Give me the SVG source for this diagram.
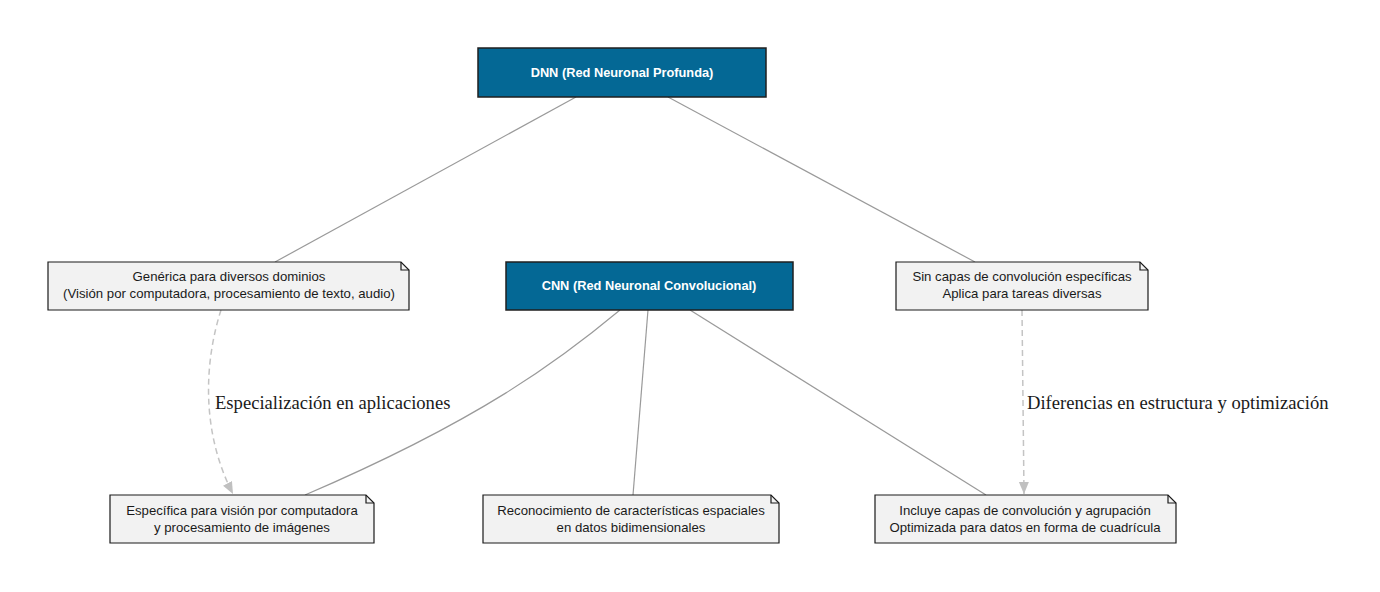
<svg xmlns="http://www.w3.org/2000/svg" width="1380" height="592" viewBox="0 0 1380 592">
<style>
.main{fill:#046895;stroke:#1f1f1f;stroke-width:1.5}
.note{fill:#f2f2f2;stroke:#1a1a1a;stroke-width:1.2}
.fold{fill:none;stroke:#1a1a1a;stroke-width:1.2}
.mt{font-family:"Liberation Sans",Arial,sans-serif;font-size:12.8px;font-weight:bold;fill:#ffffff;text-anchor:middle}
.nt{font-family:"Liberation Sans",Arial,sans-serif;font-size:13.2px;fill:#1a1a1a;text-anchor:middle}
.lbl{font-family:"Liberation Serif","Times New Roman",serif;font-size:18.6px;fill:#1a1a1a}
.edge{fill:none;stroke:#9a9a9a;stroke-width:1.2}
.dash{fill:none;stroke:#c4c4c4;stroke-width:1.5;stroke-dasharray:6,4}
</style>
<defs>
<marker id="arr" viewBox="0 0 12 12" refX="12" refY="6" markerWidth="12" markerHeight="12" markerUnits="userSpaceOnUse" orient="auto">
<path d="M0,1 L12,6 L0,11 Z" fill="#c0c0c0"/>
</marker>
</defs>
<rect width="1380" height="592" fill="#ffffff"/>
<g id="connectors">
<line class="edge" x1="576" y1="97" x2="275" y2="262"/>
<line class="edge" x1="668" y1="97" x2="975" y2="262"/>
<path class="edge" d="M620,310 C560,360 480,420 305,495"/>
<line class="edge" x1="648" y1="310" x2="633" y2="495"/>
<line class="edge" x1="690" y1="310" x2="986" y2="495"/>
<path class="dash" d="M221,310 C205,360 200,430 233,494" marker-end="url(#arr)"/>
<line class="dash" x1="1022" y1="310" x2="1024" y2="494" marker-end="url(#arr)"/>
<text class="lbl" x="215" y="409">Especialización en aplicaciones</text>
<text class="lbl" x="1027" y="409">Diferencias en estructura y optimización</text>
</g>
<g id="dnn">
<rect class="main" x="478" y="48" width="288" height="49"/>
<text class="mt" x="622" y="77">DNN (Red Neuronal Profunda)</text>
</g>
<g id="cnn">
<rect class="main" x="506" y="262" width="287" height="48"/>
<text class="mt" x="649" y="290">CNN (Red Neuronal Convolucional)</text>
</g>
<g id="note-generica">
<path class="note" d="M48,262 H401 L409,270 V310 H48 Z"/>
<path class="fold" d="M401,262 V270 H409"/>
<text class="nt" x="229" y="281">Genérica para diversos dominios</text>
<text class="nt" x="229" y="298">(Visión por computadora, procesamiento de texto, audio)</text>
</g>
<g id="note-sin">
<path class="note" d="M896,262 H1140 L1148,270 V310 H896 Z"/>
<path class="fold" d="M1140,262 V270 H1148"/>
<text class="nt" x="1022" y="281">Sin capas de convolución específicas</text>
<text class="nt" x="1022" y="298">Aplica para tareas diversas</text>
</g>
<g id="note-especifica">
<path class="note" d="M110,495 H366 L374,503 V543 H110 Z"/>
<path class="fold" d="M366,495 V503 H374"/>
<text class="nt" x="242" y="515">Específica para visión por computadora</text>
<text class="nt" x="242" y="532">y procesamiento de imágenes</text>
</g>
<g id="note-reconocimiento">
<path class="note" d="M483,495 H771 L779,503 V543 H483 Z"/>
<path class="fold" d="M771,495 V503 H779"/>
<text class="nt" x="631" y="515">Reconocimiento de características espaciales</text>
<text class="nt" x="631" y="532">en datos bidimensionales</text>
</g>
<g id="note-incluye">
<path class="note" d="M875,495 H1168 L1176,503 V543 H875 Z"/>
<path class="fold" d="M1168,495 V503 H1176"/>
<text class="nt" x="1025" y="515">Incluye capas de convolución y agrupación</text>
<text class="nt" x="1025" y="532">Optimizada para datos en forma de cuadrícula</text>
</g>
</svg>
